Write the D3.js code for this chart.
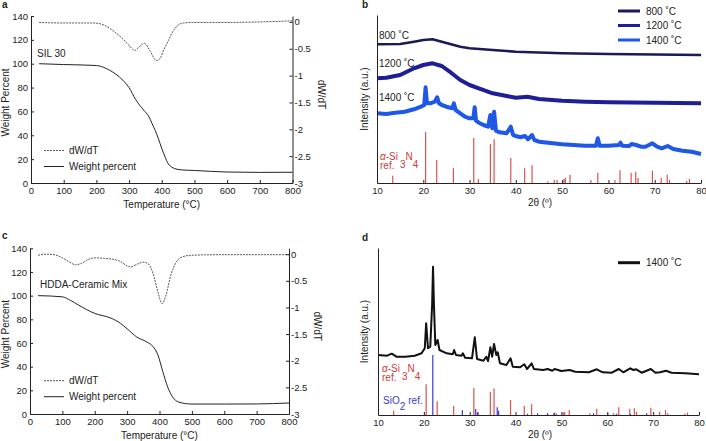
<!DOCTYPE html>
<html>
<head>
<meta charset="utf-8">
<script src="https://d3js.org/d3.v7.min.js"></script>
<style>
  body { margin: 0; background: #fff; }
  text { font-family: "Liberation Sans", Arial, sans-serif; fill: #222; }
  .axis path, .axis line { stroke: #222; stroke-width: 1; }
  .axis text { font-size: 9.5px; fill: #222; }
  .lbl { font-size: 10px; }
  .letter { font-size: 10px; font-weight: bold; }
</style>
</head>
<body>
<svg id="fig" width="706" height="441"></svg>
<script>
// ---- TGA, panel a (SIL 30) ----
var tempA   = [25, 100, 200, 230, 250, 270, 285, 300, 320, 345, 360, 370, 380, 390, 400, 410, 420, 430, 440, 460, 500, 600, 700, 800];
var weightA = [100, 99.3, 98.5, 96, 93, 89, 85, 80, 70, 61, 56, 50, 44, 37, 29, 22, 16, 13.5, 12, 11, 10.5, 9.2, 8.9, 9];
var tempDA  = [25, 90, 190, 220, 252, 278, 299, 317, 330, 347, 365, 383, 395, 406, 420, 432, 452, 467, 500, 600, 700, 800];
var dwdtA   = [-0.01, -0.02, -0.02, -0.05, -0.17, -0.30, -0.43, -0.53, -0.47, -0.40, -0.55, -0.72, -0.68, -0.52, -0.35, -0.2, -0.05, -0.02, -0.01, -0.01, 0, 0.02];

// ---- TGA, panel c (HDDA-Ceramic Mix) ----
var tempC   = [25, 100, 125, 150, 200, 250, 280, 300, 330, 360, 380, 395, 410, 425, 440, 460, 500, 600, 700, 800];
var weightC = [100, 99, 96, 92, 85, 81, 76.5, 72, 65, 61, 57, 50, 36, 23, 14.6, 10, 8.4, 8.4, 8.5, 9.3];
var tempDC  = [25, 50, 75, 100, 120, 140, 160, 180, 200, 230, 260, 280, 300, 310, 330, 350, 365, 380, 395, 408, 420, 435, 450, 470, 500, 600, 700, 800];
var dwdtC   = [-0.02, 0, -0.01, -0.07, -0.14, -0.2, -0.17, -0.1, -0.07, -0.08, -0.1, -0.14, -0.22, -0.24, -0.19, -0.15, -0.18, -0.36, -0.71, -0.93, -0.77, -0.39, -0.17, -0.05, -0.02, -0.01, -0.01, -0.01];

var tempTicks = [0, 100, 200, 300, 400, 500, 600, 700, 800];
var wtTicks = [0, 20, 40, 60, 80, 100, 120, 140];
var dTicks = [0, -0.5, -1, -1.5, -2, -2.5, -3];

// ---- XRD, panel b ----
var tt800 = [10, 15, 18, 20, 22, 24, 26, 28, 30, 35, 40, 50, 60, 70, 80];
var i800  = [138.7, 139, 141.3, 143, 143.7, 141.3, 138.7, 136.3, 134.7, 133, 131.3, 129.7, 129, 128.5, 128];
var tt1200 = [10, 12, 15, 18, 20, 22, 24, 26, 28, 30, 32, 35, 38, 40, 42.5, 45, 50, 55, 60, 70, 80];
var i1200  = [104.7, 105.3, 108, 114.7, 118, 119.7, 117, 110.3, 103, 98, 94.7, 89.7, 87, 85.3, 86.3, 84, 82.3, 81.3, 80.7, 80.3, 79.7];
var tt1400 = [10, 12, 14, 16, 18, 19.5, 20.2, 20.5, 20.8, 21.5, 22.5, 23, 23.4, 24, 25, 26.3, 26.6, 27, 28, 29, 30, 30.8, 31.1, 31.4, 32, 33, 34, 34.5, 34.9, 35.3, 35.7, 36.5, 38, 38.9, 39.4, 40, 41, 42, 42.6, 43.5, 44, 45, 47, 50, 55, 57.3, 57.7, 58.1, 60, 62.3, 62.6, 63, 64.5, 65, 66, 67, 68, 69.5, 70.5, 71.5, 72.8, 74, 76, 78, 80];
var i1400  = [69.7, 69, 70.3, 71.3, 73.7, 76.3, 78, 95.7, 79.7, 79.7, 81.3, 85.7, 79.7, 78, 76.3, 74.7, 79.7, 73, 69.7, 66.3, 64.7, 64.7, 75.7, 62.3, 60.3, 58, 56.3, 68, 54.7, 71.3, 52.3, 50.7, 49.7, 56.3, 48, 47, 45.7, 47, 43.7, 48, 43, 41.3, 40.3, 38.7, 37.3, 37.3, 44.7, 37.3, 37.3, 38, 40.3, 37.3, 37, 39, 38, 36.3, 36.3, 39.7, 36.3, 34.7, 37, 34, 32.3, 31.3, 29];

// ---- XRD, panel d ----
var ttD = [10, 12, 13, 14, 16, 18, 19.5, 20.2, 20.5, 20.9, 21.4, 21.8, 22, 22.2, 22.5, 23, 23.4, 25, 26.3, 26.6, 27, 28.2, 28.5, 29, 30.5, 31.1, 31.6, 33, 33.6, 34, 34.5, 34.9, 35.3, 35.8, 36.1, 36.6, 38, 38.9, 39.4, 41, 41.9, 42.5, 43.5, 44, 46, 47, 48, 48.5, 50, 51.8, 53, 56, 57.7, 59, 61, 62.5, 63.5, 65, 65.7, 66.3, 67.5, 69.5, 70.5, 71.5, 72.8, 74, 77, 80];
var iD  = [60, 59.3, 61.3, 58.3, 58.3, 59.3, 61.7, 66.7, 91.7, 66.7, 68.3, 110, 148.3, 110, 70, 75, 65, 61.7, 60.7, 65, 60, 59.3, 61.7, 57.3, 56.7, 77.7, 56, 54.3, 58.3, 54, 67.7, 58.3, 71, 60, 62.7, 51.7, 50, 56.7, 48.3, 47.7, 50.7, 46, 51.7, 46, 45, 46, 44.3, 46, 44, 45, 43.3, 42.7, 45.7, 42.7, 42.3, 46, 42.7, 46.7, 45, 45.7, 42.3, 46, 42.3, 42.7, 44.3, 42.3, 41.7, 40.7];

// reference patterns (relative intensity)
var si3n4Pos = [13.4, 20.5, 22.9, 26.5, 30.9, 31.9, 34.5, 35.3, 38.9, 41.9, 43.5, 46.9, 48.3, 48.9, 50.4, 50.7, 51.7, 56.2, 57.7, 61.4, 62.5, 64.9, 65.9, 66.4, 69.5, 71.4, 72.7, 73.2, 76.9, 77.5];
var si3n4Rel = [14, 100, 45, 29, 88, 8, 76, 86, 49, 29, 35, 3, 6, 6, 8, 10, 16, 6, 20, 6, 25, 20, 22, 10, 24, 10, 16, 6, 4, 8];
var sio2Pos = [21.95, 28.4, 31.3, 31.7, 36.0, 36.3, 42.6, 44.8, 47.0, 48.5, 57.0, 60.1, 62.0, 65.0, 68.6];
var sio2Rel = [100, 8, 10, 5, 13, 7, 2, 3, 3, 4, 3, 2, 2, 2, 3];

var ttTicks = [10, 20, 30, 40, 50, 60, 70, 80];

var svg = d3.select("#fig");
svg.append("rect").attr("width", 706).attr("height", 441).attr("fill", "#fff");

function tga(o) {
  var g = svg.append("g");
  var x = d3.scaleLinear().domain([0, 800]).range([o.x0, o.x1]);
  var y = d3.scaleLinear().domain([0, 140]).range([o.yb, o.yt]);
  var y2 = d3.scaleLinear().domain([-3, 0.11]).range([o.yb, o.yt]);

  g.append("g").attr("class", "axis").attr("transform", "translate(0," + o.yb + ")")
    .call(d3.axisBottom(x).tickValues(tempTicks).tickSizeInner(-3).tickSizeOuter(0).tickPadding(4));
  g.append("g").attr("class", "axis").attr("transform", "translate(" + o.x0 + ",0)")
    .call(d3.axisLeft(y).tickValues(wtTicks).tickSizeInner(-3).tickSizeOuter(0).tickPadding(3));
  g.append("g").attr("class", "axis").attr("transform", "translate(" + o.x1 + ",0)")
    .call(d3.axisRight(y2).tickValues(dTicks).tickSizeInner(-3).tickSizeOuter(0).tickPadding(2)
      .tickFormat(function(d) { return String(d); }));

  var wLine = d3.line().x(function(d) { return x(d[0]); }).y(function(d) { return y(d[1]); }).curve(d3.curveMonotoneX);
  var dLine = d3.line().x(function(d) { return x(d[0]); }).y(function(d) { return y2(d[1]); }).curve(d3.curveMonotoneX);

  g.append("path").datum(d3.zip(o.tD, o.dw)).attr("d", dLine)
    .attr("fill", "none").attr("stroke", "#444").attr("stroke-width", 0.9).attr("stroke-dasharray", "2,1");
  g.append("path").datum(d3.zip(o.t, o.w)).attr("d", wLine)
    .attr("fill", "none").attr("stroke", "#222").attr("stroke-width", 1);

  // legend
  g.append("line").attr("x1", 44).attr("x2", 64).attr("y1", o.legY).attr("y2", o.legY)
    .attr("stroke", "#444").attr("stroke-width", 0.9).attr("stroke-dasharray", "2,1");
  g.append("line").attr("x1", 44).attr("x2", 64).attr("y1", o.legY + 16).attr("y2", o.legY + 16)
    .attr("stroke", "#222").attr("stroke-width", 1);
  g.append("text").attr("class", "lbl").attr("x", 69).attr("y", o.legY + 3.5).text("dW/dT");
  g.append("text").attr("class", "lbl").attr("x", 69).attr("y", o.legY + 19.5).text("Weight percent");

  g.append("text").attr("class", "lbl").attr("x", o.nameX).attr("y", o.nameY).text(o.name);
  g.append("text").attr("class", "lbl").attr("text-anchor", "middle")
    .attr("x", (o.x0 + o.x1) / 2).attr("y", o.yb + 25).text("Temperature (°C)");
  g.append("text").attr("class", "lbl").attr("text-anchor", "middle")
    .attr("transform", "translate(9," + ((o.yb + o.yt) / 2 + 3) + ") rotate(-90)").text("Weight Percent");
  g.append("text").attr("class", "lbl").attr("text-anchor", "middle")
    .attr("transform", "translate(" + (o.x1 + 25) + "," + ((o.yb + o.yt) / 2 - 5) + ") rotate(90)").text("dW/dT");
  g.append("text").attr("class", "letter").attr("x", 2).attr("y", o.letterY).text(o.letter);
}

tga({x0: 31, x1: 292.5, yb: 183, yt: 16, t: tempA, w: weightA, tD: tempDA, dw: dwdtA,
     legY: 150.5, name: "SIL 30", nameX: 37, nameY: 57, letter: "a", letterY: 8});
tga({x0: 30, x1: 289, yb: 414, yt: 248.3, t: tempC, w: weightC, tD: tempDC, dw: dwdtC,
     legY: 380.7, name: "HDDA-Ceramic Mix", nameX: 40, nameY: 288, letter: "c", letterY: 239});

function xrd(o) {
  var g = svg.append("g");
  var x = d3.scaleLinear().domain([10, 80]).range([o.x0, o.x1]);
  var y = d3.scaleLinear().domain([0, o.yb - o.yt]).range([o.yb, o.yt]);
  var line = d3.line().x(function(d) { return x(d[0]); }).y(function(d) { return y(d[1]); });

  o.refs.forEach(function(r) {
    var ry = d3.scaleLinear().domain([0, 100]).range([o.yb, o.yb - r.h]);
    g.append("g").selectAll("line").data(d3.zip(r.pos, r.rel)).join("line")
      .attr("x1", function(d) { return x(d[0]); }).attr("x2", function(d) { return x(d[0]); })
      .attr("y1", o.yb).attr("y2", function(d) { return ry(d[1]); })
      .attr("stroke", r.color).attr("stroke-width", 1.2);
  });

  o.series.forEach(function(s) {
    g.append("path").datum(d3.zip(s.tt, s.v)).attr("d", line)
      .attr("fill", "none").attr("stroke", s.color).attr("stroke-width", s.sw).attr("stroke-linejoin", "round");
  });

  g.append("g").attr("class", "axis").attr("transform", "translate(0," + o.yb + ")")
    .call(d3.axisBottom(x).tickValues(ttTicks).tickSizeInner(-3).tickSizeOuter(0).tickPadding(4));
  g.append("g").attr("class", "axis").attr("transform", "translate(" + o.x0 + ",0)")
    .call(d3.axisLeft(y).tickValues([]).tickSizeOuter(0));

  g.append("text").attr("class", "lbl").attr("text-anchor", "middle")
    .attr("x", 540).attr("y", o.yb + 23).text("2θ (º)");
  g.append("text").attr("class", "lbl").attr("text-anchor", "middle")
    .attr("transform", "translate(368," + ((o.yb + o.yt) / 2) + ") rotate(-90)").text("Intensity (a.u.)");
  g.append("text").attr("class", "letter").attr("x", 362).attr("y", o.letterY).text(o.letter);

  // legend
  o.series.forEach(function(s, i) {
    var ly = o.legY + i * 14.5;
    g.append("line").attr("x1", 618).attr("x2", 640).attr("y1", ly).attr("y2", ly)
      .attr("stroke", s.color).attr("stroke-width", 3);
    g.append("text").attr("class", "lbl").attr("x", 646).attr("y", ly + 3.5).text(s.name);
  });
  return g;
}

function si3n4Label(g, x0, yb) {
  var t = g.append("text").attr("class", "lbl").attr("x", x0).attr("y", yb).style("fill", "#d23b3b");
  t.append("tspan").style("font-style", "italic").style("fill", "#d23b3b").text("α");
  t.append("tspan").style("fill", "#d23b3b").text("-Si");
  t.append("tspan").attr("dx", 2).attr("dy", 8).style("fill", "#d23b3b").text("3");
  t.append("tspan").attr("dy", -8).style("fill", "#d23b3b").text("N");
  t.append("tspan").attr("dy", 8).style("fill", "#d23b3b").text("4");
  g.append("text").attr("class", "lbl").attr("x", x0).attr("y", yb + 9).style("fill", "#d23b3b").text("ref.");
}

var b = xrd({x0: 377, x1: 701, yb: 183, yt: 15, letter: "b", letterY: 8, legY: 11,
  refs: [{pos: si3n4Pos, rel: si3n4Rel, h: 51, color: "#d9534f"}],
  series: [
    {name: "800 ˚C", tt: tt800, v: i800, color: "#1b1a57", sw: 2.5},
    {name: "1200 ˚C", tt: tt1200, v: i1200, color: "#1e1e98", sw: 4},
    {name: "1400 ˚C", tt: tt1400, v: i1400, color: "#1f58e6", sw: 4}
  ]});
b.append("text").attr("class", "lbl").attr("x", 379).attr("y", 38.5).text("800 ˚C");
b.append("text").attr("class", "lbl").attr("x", 379).attr("y", 67).text("1200 ˚C");
b.append("text").attr("class", "lbl").attr("x", 379).attr("y", 101).text("1400 ˚C");
si3n4Label(b, 380, 160);

var dp = xrd({x0: 378, x1: 699, yb: 415, yt: 248, letter: "d", letterY: 241, legY: 262.7,
  refs: [{pos: si3n4Pos, rel: si3n4Rel, h: 30.7, color: "#d9534f"},
         {pos: sio2Pos, rel: sio2Rel, h: 60, color: "#3a3ad0"}],
  series: [
    {name: "1400 ˚C", tt: ttD, v: iD, color: "#111", sw: 2}
  ]});
si3n4Label(dp, 382, 372);
var sio = dp.append("text").attr("class", "lbl").attr("x", 383).attr("y", 404).style("fill", "#3a3ad0");
sio.append("tspan").style("fill", "#3a3ad0").text("SiO");
sio.append("tspan").attr("dy", 6).style("fill", "#3a3ad0").text("2");
sio.append("tspan").attr("dx", 3).attr("dy", -6).style("fill", "#3a3ad0").text("ref.");
</script>
</body>
</html>
